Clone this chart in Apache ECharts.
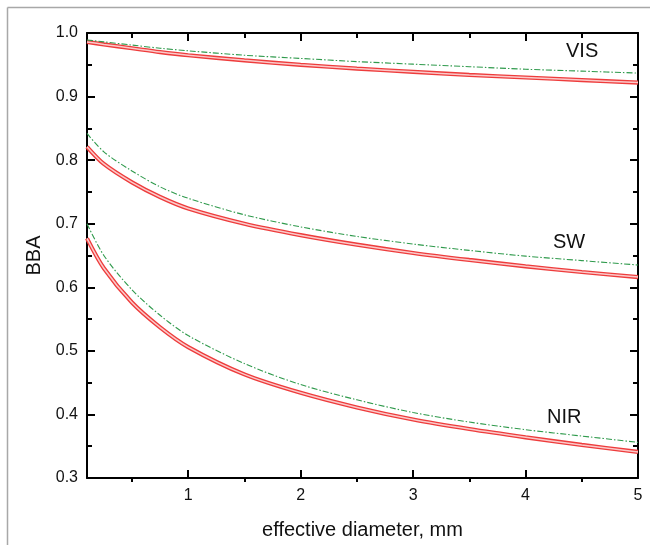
<!DOCTYPE html>
<html>
<head>
<meta charset="utf-8">
<script src="https://cdn.jsdelivr.net/npm/echarts@6/dist/echarts.min.js"></script>
<style>html,body{margin:0;padding:0;background:#fff;}#c{width:650px;height:545px;}</style>
</head>
<body>
<div id="c"></div>
<script>
// Data
const diameter = [0.1, 0.25, 0.5, 0.75, 1, 1.5, 2, 2.5, 3, 3.5, 4, 4.5, 5];
const visRed   = [0.986, 0.982, 0.976, 0.970, 0.965, 0.957, 0.950, 0.944, 0.939, 0.934, 0.930, 0.926, 0.922];
const visGreen = [0.989, 0.986, 0.981, 0.976, 0.972, 0.965, 0.960, 0.955, 0.951, 0.947, 0.943, 0.940, 0.937];
const swRed    = [0.821, 0.794, 0.765, 0.742, 0.724, 0.700, 0.682, 0.667, 0.654, 0.643, 0.633, 0.624, 0.616];
const swGreen  = [0.842, 0.813, 0.783, 0.758, 0.740, 0.714, 0.695, 0.680, 0.668, 0.658, 0.649, 0.642, 0.635];
const nirRed   = [0.677, 0.630, 0.576, 0.537, 0.506, 0.463, 0.434, 0.411, 0.392, 0.377, 0.364, 0.352, 0.341];
const nirGreen = [0.700, 0.650, 0.596, 0.556, 0.524, 0.480, 0.447, 0.423, 0.403, 0.388, 0.376, 0.366, 0.356];
const xMajorTicks = [1, 2, 3, 4, 5];
const xMinorTicks = [0.5, 1.5, 2.5, 3.5, 4.5];
const bandLabels = ['VIS', 'SW', 'NIR'];

const FONT = 'Liberation Sans, Arial, sans-serif';
const pair = (xs, ys) => xs.map((x, i) => [x, ys[i]]);
const SMOOTH = 0.3;

function redSeries(ys) {
  return [
    { type: 'line', data: pair(diameter, ys), smooth: SMOOTH, showSymbol: false,
      lineStyle: { color: '#ee3c3c', width: 4.2 }, z: 3, silent: true },
    { type: 'line', data: pair(diameter, ys), smooth: SMOOTH, showSymbol: false,
      lineStyle: { color: '#fbcaca', width: 1.5 }, z: 4, silent: true }
  ];
}
function greenSeries(ys) {
  return { type: 'line', data: pair(diameter, ys), smooth: SMOOTH, showSymbol: false,
    lineStyle: { color: '#2f9a4c', width: 1.1, type: [6, 2, 1.5, 2] }, z: 5, silent: true };
}

const gridRect = { left: 87, right: 12, top: 33, bottom: 63 };
const axisLineStyle = { color: '#000', width: 2 };

const option = {
  animation: false,
  backgroundColor: '#fff',
  grid: [Object.assign({}, gridRect), Object.assign({}, gridRect)],
  xAxis: [
    { gridIndex: 0, type: 'value', position: 'bottom', min: 0.1, max: 5,
      name: 'effective diameter, mm', nameLocation: 'middle', nameGap: 42,
      nameTextStyle: { fontFamily: FONT, fontSize: 20, color: '#111' },
      axisLine: { lineStyle: axisLineStyle },
      axisTick: { inside: true, length: 8, lineStyle: { color: '#000', width: 2 }, customValues: xMajorTicks },
      axisLabel: { customValues: xMajorTicks, margin: 10, fontFamily: FONT, fontSize: 16, color: '#111' },
      splitLine: { show: false } },
    { gridIndex: 0, type: 'value', position: 'top', min: 0.1, max: 5,
      axisLine: { lineStyle: axisLineStyle },
      axisTick: { inside: true, length: 8, lineStyle: { color: '#000', width: 2 }, customValues: xMajorTicks },
      axisLabel: { show: false }, splitLine: { show: false } },
    { gridIndex: 1, type: 'value', position: 'bottom', min: 0.1, max: 5,
      axisLine: { show: false },
      axisTick: { inside: true, length: 5, lineStyle: { color: '#000', width: 2 }, customValues: xMinorTicks },
      axisLabel: { show: false }, splitLine: { show: false } },
    { gridIndex: 1, type: 'value', position: 'top', min: 0.1, max: 5,
      axisLine: { show: false },
      axisTick: { inside: true, length: 5, lineStyle: { color: '#000', width: 2 }, customValues: xMinorTicks },
      axisLabel: { show: false }, splitLine: { show: false } }
  ],
  yAxis: [
    { gridIndex: 0, type: 'value', position: 'left', min: 0.3, max: 1.0, interval: 0.1,
      name: 'BBA', nameLocation: 'middle', nameGap: 42, nameRotate: 90,
      nameTextStyle: { fontFamily: FONT, fontSize: 20, color: '#111' },
      axisLine: { show: true, lineStyle: axisLineStyle },
      axisTick: { show: true, inside: true, length: 8, lineStyle: { color: '#000', width: 2 } },
      minorTick: { show: true, splitNumber: 2, length: 5, lineStyle: { color: '#000', width: 2 } },
      axisLabel: { margin: 9, fontFamily: FONT, fontSize: 16, color: '#111', formatter: v => v.toFixed(1) },
      splitLine: { show: false } },
    { gridIndex: 0, type: 'value', position: 'right', min: 0.3, max: 1.0, interval: 0.1,
      axisLine: { show: true, lineStyle: axisLineStyle },
      axisTick: { show: true, inside: true, length: 8, lineStyle: { color: '#000', width: 2 } },
      minorTick: { show: true, splitNumber: 2, length: 5, lineStyle: { color: '#000', width: 2 } },
      axisLabel: { show: false }, splitLine: { show: false } },
    { gridIndex: 1, type: 'value', min: 0.3, max: 1.0, show: false }
  ],
  series: [].concat(
    redSeries(visRed), [greenSeries(visGreen)],
    redSeries(swRed), [greenSeries(swGreen)],
    redSeries(nirRed), [greenSeries(nirGreen)]
  ).map(s => Object.assign(s, { xAxisIndex: 0, yAxisIndex: 0 })),
  graphic: [
    { type: 'line', shape: { x1: 7.5, y1: 7.5, x2: 650, y2: 7.5 }, style: { stroke: '#a8a8a8', lineWidth: 1.5 } },
    { type: 'line', shape: { x1: 7.5, y1: 7.5, x2: 7.5, y2: 545 }, style: { stroke: '#a8a8a8', lineWidth: 1.5 } },
    { type: 'text', left: 566, top: 41, style: { text: bandLabels[0], font: '20px ' + FONT, fill: '#111' } },
    { type: 'text', left: 553, top: 232, style: { text: bandLabels[1], font: '20px ' + FONT, fill: '#111' } },
    { type: 'text', left: 547, top: 407, style: { text: bandLabels[2], font: '20px ' + FONT, fill: '#111' } }
  ]
};

const chart = echarts.init(document.getElementById('c'), null, { renderer: 'canvas' });
chart.setOption(option);
</script>
</body>
</html>
